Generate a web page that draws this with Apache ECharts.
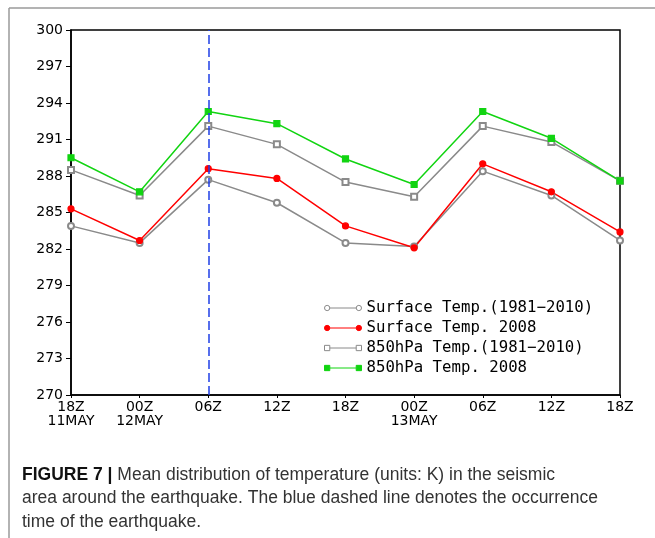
<!DOCTYPE html>
<html>
<head>
<meta charset="utf-8">
<script src="https://cdn.jsdelivr.net/npm/echarts@6/dist/echarts.min.js"></script>
<style>
html,body{margin:0;padding:0;background:#fff;}
#chart{width:655px;height:538px;}
</style>
</head>
<body>
<div id="chart"></div>
<script>
var categories = ['18Z\n11MAY', '00Z\n12MAY', '06Z', '12Z', '18Z', '00Z\n13MAY', '06Z', '12Z', '18Z'];
var yTicks = [270, 273, 276, 279, 282, 285, 288, 291, 294, 297, 300];
var seriesNames = ['Surface Temp.(1981\u22122010)', 'Surface Temp. 2008', '850hPa Temp.(1981\u22122010)', '850hPa Temp. 2008'];
var surfaceClim = [283.9, 282.5, 287.7, 285.8, 282.5, 282.2, 288.4, 286.4, 282.7];
var surface2008 = [285.3, 282.7, 288.6, 287.8, 283.9, 282.1, 289.0, 286.7, 283.4];
var hpaClim = [288.5, 286.4, 292.1, 290.6, 287.5, 286.3, 292.1, 290.8, 287.6];
var hpa2008 = [289.5, 286.7, 293.3, 292.3, 289.4, 287.3, 293.3, 291.1, 287.6];
var quakeIndex = 2;

var GREY = '#8a8a8a', RED = '#ff0000', GREEN = '#11d411', BLUE = '#1f3fe6';
var circPath = 'path://M0.5,4a2.5,2.5 0 1,0 5,0a2.5,2.5 0 1,0 -5,0M5.5,4L30.5,4M30.5,4a2.5,2.5 0 1,0 5,0a2.5,2.5 0 1,0 -5,0';
var rectPath = 'path://M0.5,1.5h5v5h-5zM5.5,4L30.5,4M30.5,1.5h5v5h-5z';

var chart = echarts.init(document.getElementById('chart'), null, {renderer: 'canvas'});
var axisFont = {fontFamily: 'DejaVu Sans', fontSize: 14, color: '#000'};

function mkSeries(name, data, color, symbol, size) {
  return {
    name: name, type: 'line', data: data, symbol: symbol, symbolSize: size,
    showAllSymbol: true,
    lineStyle: {color: color, width: 1.5},
    itemStyle: {color: color, borderColor: color, borderWidth: 1.2},
    emphasis: {disabled: true},
    animation: false
  };
}

var s1 = mkSeries(seriesNames[0], surfaceClim, GREY, 'emptyCircle', 6);
var s2 = mkSeries(seriesNames[1], surface2008, RED, 'circle', 6);
var s3 = mkSeries(seriesNames[2], hpaClim, GREY, 'emptyRect', 6);
var s4 = mkSeries(seriesNames[3], hpa2008, GREEN, 'rect', 6);
s4.markLine = {
  silent: true, symbol: ['none', 'none'], animation: false,
  label: {show: false},
  lineStyle: {color: BLUE, type: [9, 4], width: 1.5},
  data: [{xAxis: quakeIndex}]
};

var option = {
  backgroundColor: '#fff',
  animation: false,
  grid: {left: 71, top: 30, width: 549, height: 365, show: true, borderColor: '#000', borderWidth: 1.5, backgroundColor: 'transparent'},
  xAxis: {
    type: 'category', data: categories, boundaryGap: false,
    axisLine: {lineStyle: {color: '#000', width: 1.5}},
    axisTick: {show: true, length: 3, lineStyle: {color: '#000'}},
    axisLabel: Object.assign({margin: 5, lineHeight: 14, interval: 0}, axisFont),
    splitLine: {show: false}
  },
  yAxis: {
    type: 'value', min: yTicks[0], max: yTicks[yTicks.length - 1], interval: 3,
    axisLine: {show: true, lineStyle: {color: '#000', width: 1.5}},
    axisTick: {show: true, length: 5, lineStyle: {color: '#000'}},
    axisLabel: Object.assign({margin: 8}, axisFont),
    splitLine: {show: false}
  },
  legend: {
    orient: 'vertical', left: 319, top: 295, itemWidth: 37, itemHeight: 8, itemGap: 4,
    selectedMode: false,
    textStyle: {fontFamily: 'DejaVu Sans Mono', fontSize: 15.7, color: '#000', lineHeight: 16},
    data: [
      {name: seriesNames[0], icon: circPath, itemStyle: {color: '#fff', borderColor: GREY, borderWidth: 1}},
      {name: seriesNames[1], icon: circPath, itemStyle: {color: RED, borderColor: RED, borderWidth: 1}},
      {name: seriesNames[2], icon: rectPath, itemStyle: {color: '#fff', borderColor: GREY, borderWidth: 1}},
      {name: seriesNames[3], icon: rectPath, itemStyle: {color: GREEN, borderColor: GREEN, borderWidth: 1}}
    ]
  },
  graphic: [
    {type: 'line', shape: {x1: 9, y1: 8, x2: 655, y2: 8}, style: {stroke: '#9a9a9a', lineWidth: 1.5}, silent: true},
    {type: 'line', shape: {x1: 9, y1: 8, x2: 9, y2: 538}, style: {stroke: '#9a9a9a', lineWidth: 1.5}, silent: true},
    {
      type: 'text', left: 22, top: 463, silent: true,
      style: {
        text: '{b|FIGURE 7 |} Mean distribution of temperature (units: K) in the seismic\narea around the earthquake. The blue dashed line denotes the occurrence\ntime of the earthquake.',
        fontFamily: 'Liberation Sans', fontSize: 17.5, lineHeight: 23.5, fill: '#333',
        rich: {b: {fontFamily: 'Liberation Sans', fontSize: 17.5, fontWeight: 'bold', fill: '#111', lineHeight: 23.5}}
      }
    }
  ],
  series: [s1, s2, s3, s4]
};
chart.setOption(option);
</script>
</body>
</html>
